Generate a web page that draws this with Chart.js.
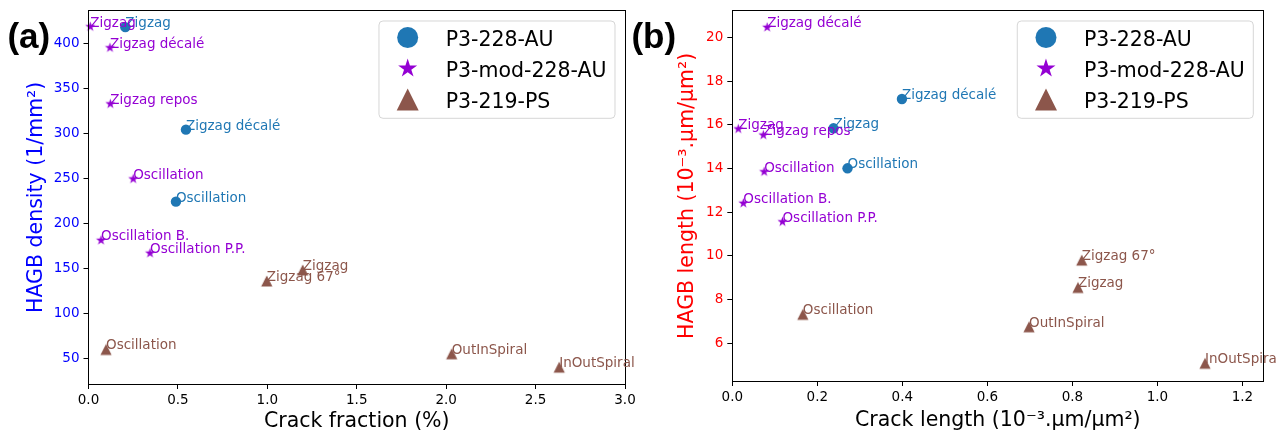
<!DOCTYPE html>
<html>
<head>
<meta charset="utf-8">
<script src="https://cdn.jsdelivr.net/npm/chart.js@4.4.1/dist/chart.umd.min.js"></script>
<style>
  body { margin: 0; background: #fff; }
  #wrap { position: relative; width: 1277px; height: 432px; overflow: hidden; }
  canvas { position: absolute; top: 0; }
  #ca { left: 0; }
  #cb { left: 638px; }
  .panel { position: absolute; top: 18.4px; font: bold 35px 'Liberation Sans', Arial, sans-serif; line-height: 35px; color: #000; }
</style>
</head>
<body>
<div id="wrap">
  <canvas id="ca" width="638" height="432"></canvas>
  <canvas id="cb" width="639" height="432"></canvas>
  <div class="panel" style="left:7.4px">(a)</div>
  <div class="panel" style="left:631.4px">(b)</div>
</div>
<script>
const seriesNames = ['P3-228-AU', 'P3-mod-228-AU', 'P3-219-PS'];
const seriesColors = ['#1f77b4', '#9400d3', '#8c564b'];
const seriesShapes = ['circle', 'star', 'triangle'];

// (a) crack fraction (%) / HAGB density (1/mm²)
const auNamesA = ['Zigzag', 'Zigzag décalé', 'Oscillation'];
const auFraction = [0.206, 0.545, 0.489];
const auDensity = [417.9, 304.0, 224.0];

const modNamesA = ['Zigzag', 'Zigzag décalé', 'Zigzag repos', 'Oscillation', 'Oscillation B.', 'Oscillation P.P.'];
const modFraction = [0.010, 0.120, 0.122, 0.250, 0.070, 0.344];
const modDensity = [418.4, 395.0, 332.6, 249.2, 181.0, 166.7];

const psNamesA = ['Oscillation', 'Zigzag 67°', 'Zigzag', 'OutInSpiral', 'InOutSpiral'];
const psFraction = [0.098, 0.997, 1.198, 2.031, 2.632];
const psDensity = [59.8, 135.9, 148.1, 55.0, 40.1];

const xTicksA = [0, 0.5, 1, 1.5, 2, 2.5, 3];
const yTicksA = [50, 100, 150, 200, 250, 300, 350, 400];

// (b) crack length / HAGB length (10⁻³.µm/µm²)
const auNamesB = ['Zigzag décalé', 'Zigzag', 'Oscillation'];
const auCrackLen = [0.399, 0.238, 0.271];
const auHagbLen = [17.18, 15.84, 14.01];

const modNamesB = ['Zigzag décalé', 'Zigzag', 'Zigzag repos', 'Oscillation', 'Oscillation B.', 'Oscillation P.P.'];
const modCrackLen = [0.082, 0.014, 0.073, 0.075, 0.026, 0.118];
const modHagbLen = [20.46, 15.81, 15.53, 13.85, 12.41, 11.56];

const psNamesB = ['Oscillation', 'Zigzag 67°', 'Zigzag', 'OutInSpiral', 'InOutSpiral'];
const psCrackLen = [0.166, 0.822, 0.813, 0.698, 1.112];
const psHagbLen = [7.33, 9.81, 8.56, 6.76, 5.09];

const xTicksB = [0, 0.2, 0.4, 0.6, 0.8, 1.0, 1.2];
const yTicksB = [6, 8, 10, 12, 14, 16, 18, 20];


const FONT = 'DejaVu Sans';

function markerPath(ctx, shape, cx, cy, s) {
  ctx.beginPath();
  if (shape === 'circle') {
    ctx.arc(cx, cy, s, 0, Math.PI * 2);
  } else if (shape === 'star') {
    for (let k = 0; k < 10; k++) {
      const r = k % 2 ? s * 0.381966 : s;
      const t = Math.PI / 2 + k * Math.PI / 5;
      const px = cx + r * Math.cos(t), py = cy - r * Math.sin(t);
      k ? ctx.lineTo(px, py) : ctx.moveTo(px, py);
    }
  } else {
    ctx.moveTo(cx, cy - s);
    ctx.lineTo(cx - s, cy + s);
    ctx.lineTo(cx + s, cy + s);
  }
  ctx.closePath();
}

function markerImg(shape, color, s) {
  const c = document.createElement('canvas');
  const d = Math.ceil(2 * s + 2);
  c.width = c.height = d;
  const ctx = c.getContext('2d');
  ctx.fillStyle = color;
  markerPath(ctx, shape, d / 2, d / 2, s);
  ctx.fill();
  return c;
}

const markerSize = [5.2, 5.3, 5.6];
const legendSize = [10.5, 10, 11];

function series(k, xs, ys, names) {
  return {
    label: seriesNames[k],
    data: xs.map((x, i) => ({x: x, y: ys[i]})),
    names: names,
    shape: seriesShapes[k],
    backgroundColor: seriesColors[k],
    borderColor: seriesColors[k],
    borderWidth: 0,
    pointStyle: k === 0 ? 'circle' : markerImg(seriesShapes[k], seriesColors[k], markerSize[k]),
    pointRadius: markerSize[k],
    clip: false
  };
}

// frame, point names and legend box (matplotlib look)
const extras = {
  id: 'extras',
  afterDatasetsDraw(chart) {
    const ctx = chart.ctx, a = chart.chartArea;
    ctx.save();
    ctx.strokeStyle = '#000';
    ctx.lineWidth = 1;
    const l = Math.round(a.left - 0.5) + 0.5, t = Math.round(a.top - 0.5) + 0.5;
    const r = Math.round(a.right - 0.5) + 0.5, b = Math.round(a.bottom - 0.5) + 0.5;
    ctx.strokeRect(l, t, r - l, b - t);

    ctx.font = '13.5px "' + FONT + '"';
    ctx.textAlign = 'left';
    ctx.textBaseline = 'alphabetic';
    chart.data.datasets.forEach((ds, i) => {
      ctx.fillStyle = ds.backgroundColor;
      chart.getDatasetMeta(i).data.forEach((pt, j) => ctx.fillText(ds.names[j], pt.x, pt.y));
    });

    const dss = chart.data.datasets;
    ctx.font = '20.5px "' + FONT + '"';
    const tw = Math.max(...dss.map(ds => ctx.measureText(ds.label).width));
    const w = 66.7 + tw + 8.5, h = 97.3;
    const x0 = a.right - 10 - w, y0 = a.top + 10.3, rr = 4;
    ctx.beginPath();
    ctx.moveTo(x0 + rr, y0);
    ctx.arcTo(x0 + w, y0, x0 + w, y0 + h, rr);
    ctx.arcTo(x0 + w, y0 + h, x0, y0 + h, rr);
    ctx.arcTo(x0, y0 + h, x0, y0, rr);
    ctx.arcTo(x0, y0, x0 + w, y0, rr);
    ctx.closePath();
    ctx.fillStyle = 'rgba(255,255,255,0.8)';
    ctx.fill();
    ctx.strokeStyle = 'rgba(204,204,204,0.8)';
    ctx.stroke();
    dss.forEach((ds, i) => {
      const cy = y0 + 16.5 + i * 31;
      ctx.fillStyle = ds.backgroundColor;
      markerPath(ctx, ds.shape, x0 + 28.7, cy, legendSize[i]);
      ctx.fill();
      ctx.fillStyle = '#000';
      ctx.fillText(ds.label, x0 + 66.7, cy + 8);
    });
    ctx.restore();
  }
};

function noPad(s) {
  s.paddingTop = 0; s.paddingBottom = 0; s.paddingLeft = 0; s.paddingRight = 0;
}

function makeChart(id, cfg) {
  return new Chart(document.getElementById(id), {
    type: 'scatter',
    data: {datasets: cfg.datasets},
    plugins: [extras],
    options: {
      responsive: false,
      animation: false,
      events: [],
      layout: {autoPadding: false, padding: {left: 0, right: cfg.padRight, top: 10.7, bottom: 0}},
      plugins: {legend: {display: false}, tooltip: {enabled: false}},
      scales: {
        x: {
          type: 'linear', position: 'bottom', min: cfg.xMin, max: cfg.xMax,
          afterBuildTicks: s => { s.ticks = cfg.xTicks.map(v => ({value: v})); },
          afterFit: s => { s.height = cfg.xHeight; noPad(s); },
          border: {display: false},
          grid: {drawOnChartArea: false, drawTicks: true, tickLength: 5, color: '#000', tickColor: '#000', tickWidth: 1},
          ticks: {color: '#000', font: {family: FONT, size: 13.5}, padding: 3.5, maxRotation: 0, autoSkip: false,
                  callback: v => v.toFixed(1)},
          title: {display: true, text: cfg.xTitle, color: '#000',
                  font: {family: FONT, size: 20.5, lineHeight: 1}, padding: {top: 0, bottom: cfg.xTitlePad}}
        },
        y: {
          type: 'linear', position: 'left', min: cfg.yMin, max: cfg.yMax,
          afterBuildTicks: s => { s.ticks = cfg.yTicks.map(v => ({value: v})); },
          afterFit: s => { s.width = cfg.yWidth; noPad(s); },
          border: {display: false},
          grid: {drawOnChartArea: false, drawTicks: true, tickLength: 5, color: '#000', tickColor: '#000', tickWidth: 1},
          ticks: {color: cfg.yColor, font: {family: FONT, size: 13.5}, padding: 4, autoSkip: false,
                  callback: v => String(v)},
          title: {display: true, text: cfg.yTitle, color: cfg.yColor,
                  font: {family: FONT, size: 20.5, lineHeight: 1}, padding: {top: cfg.yTitlePad, bottom: 0}}
        }
      }
    }
  });
}

makeChart('ca', {
  datasets: [
    series(0, auFraction, auDensity, auNamesA),
    series(1, modFraction, modDensity, modNamesA),
    series(2, psFraction, psDensity, psNamesA)
  ],
  xMin: 0, xMax: 3, yMin: 21.4, yMax: 436.2,
  xTicks: xTicksA, yTicks: yTicksA,
  padRight: 13, xHeight: 48, yWidth: 88.5,
  xTitle: 'Crack fraction (%)', xTitlePad: 0.4,
  yTitle: 'HAGB density (1/mm²)', yTitlePad: 26, yColor: '#0000ff'
});

makeChart('cb', {
  datasets: [
    series(0, auCrackLen, auHagbLen, auNamesB),
    series(1, modCrackLen, modHagbLen, modNamesB),
    series(2, psCrackLen, psHagbLen, psNamesB)
  ],
  xMin: 0, xMax: 1.249, yMin: 4.28, yMax: 21.22,
  xTicks: xTicksB, yTicks: yTicksB,
  padRight: 13.7, xHeight: 51, yWidth: 94.3,
  xTitle: 'Crack length (10⁻³.µm/µm²)', xTitlePad: 1.4,
  yTitle: 'HAGB length (10⁻³.µm/µm²)', yTitlePad: 39.6, yColor: '#ff0000'
});
</script>
</body>
</html>
